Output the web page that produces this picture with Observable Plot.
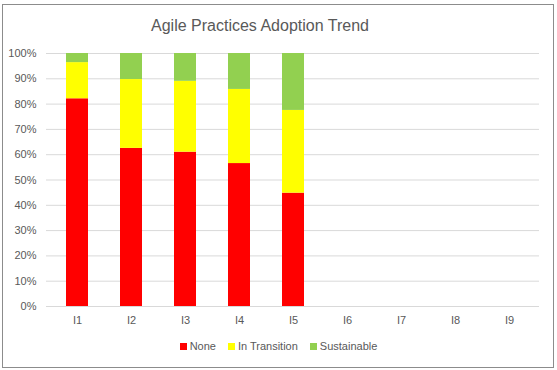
<!DOCTYPE html>
<html>
<head>
<meta charset="utf-8">
<script src="https://cdn.jsdelivr.net/npm/d3@7"></script>
<script src="https://cdn.jsdelivr.net/npm/@observablehq/plot@0.6"></script>
<style>
  html, body { margin: 0; padding: 0; background: #fff; width: 557px; height: 370px; overflow: hidden; font-family: "Liberation Sans", Arial, sans-serif; }
  #frame { position: absolute; left: 2px; top: 4px; width: 550px; height: 362px; border: 1px solid #8c8c8c; background: #fff; }
  #title { position: absolute; left: 0; top: 17px; width: 520px; text-align: center; font-size: 16px; color: #595959; }
  #chart { position: absolute; left: 0; top: 40px; }
  #legend { position: absolute; left: 0; top: 340px; width: 557px; text-align: center; font-size: 11px; color: #595959; }
  #legend span.item { display: inline-block; margin: 0 6px; }
  #legend span.sw { display: inline-block; width: 7px; height: 7px; margin-right: 3px; vertical-align: 0px; }
</style>
</head>
<body>
<div id="frame"></div>
<div id="title">Agile Practices Adoption Trend</div>
<div id="chart"></div>
<div id="legend"></div>
<script>
const categories = ["I1", "I2", "I3", "I4", "I5", "I6", "I7", "I8", "I9"];
const seriesNames = ["None", "In Transition", "Sustainable"];
const seriesColors = ["#ff0000", "#ffff00", "#92d050"];
const noneValues = [82.1, 62.5, 61.0, 56.5, 44.8, null, null, null, null];
const transitionValues = [14.3, 27.2, 28.0, 29.3, 32.7, null, null, null, null];
const sustainableValues = [3.6, 10.3, 11.0, 14.2, 22.5, null, null, null, null];
const yTicks = [0, 10, 20, 30, 40, 50, 60, 70, 80, 90, 100];

const valueSets = [noneValues, transitionValues, sustainableValues];
const data = [];
seriesNames.forEach((s, si) => {
  categories.forEach((c, ci) => {
    const v = valueSets[si][ci];
    if (v != null) data.push({cat: c, series: s, value: v});
  });
});

const chart = Plot.plot({
  width: 557,
  height: 296,
  marginLeft: 46,
  marginRight: 18,
  marginTop: 13,
  marginBottom: 30,
  style: {fontFamily: "Liberation Sans, Arial, sans-serif", fontSize: "11px", color: "#595959", background: "transparent"},
  x: {domain: categories, paddingInner: 0.6, paddingOuter: 0.3, label: null, tickSize: 0, tickPadding: 10},
  y: {domain: [0, 100], ticks: yTicks, tickFormat: d => d + "%", label: null, tickSize: 0, tickPadding: 10},
  color: {domain: seriesNames, range: seriesColors},
  marks: [
    Plot.gridY(yTicks, {stroke: "#d9d9d9", strokeOpacity: 1, strokeWidth: 1}),
    Plot.barY(data, {x: "cat", y: "value", fill: "series", order: seriesNames}),
    Plot.ruleY([0], {stroke: "#d9d9d9", strokeWidth: 1})
  ]
});
document.getElementById("chart").appendChild(chart);

const legend = document.getElementById("legend");
seriesNames.forEach((s, i) => {
  const item = document.createElement("span");
  item.className = "item";
  const sw = document.createElement("span");
  sw.className = "sw";
  sw.style.background = seriesColors[i];
  item.appendChild(sw);
  item.appendChild(document.createTextNode(s));
  legend.appendChild(item);
});
</script>
</body>
</html>
